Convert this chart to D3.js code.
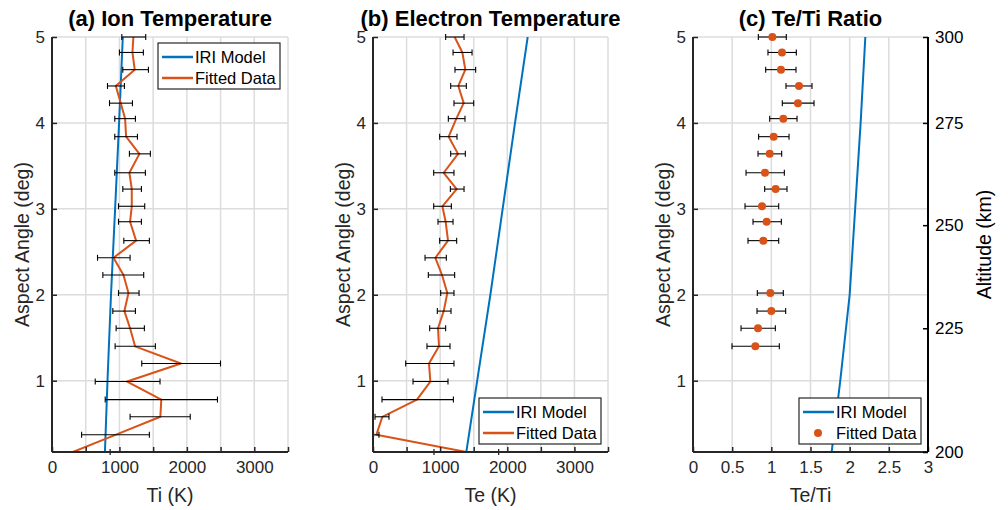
<!DOCTYPE html>
<html>
<head>
<meta charset="utf-8">
<script src="https://cdn.jsdelivr.net/npm/d3@7"></script>
<style>
  body { margin: 0; background: #fff; }
  svg { display: block; font-family: "Liberation Sans", Arial, sans-serif; }
</style>
</head>
<body>
<div id="chart"></div>
<script>
// aspect angle (deg) of each fitted range gate, top to bottom
var angle = [5.0, 4.82, 4.62, 4.43, 4.23, 4.05, 3.84, 3.64, 3.42, 3.23, 3.03, 2.85, 2.63,
             2.43, 2.23, 2.02, 1.81, 1.61, 1.40, 1.20, 0.99, 0.78, 0.58, 0.37, 0.17];

// ion temperature fit (K) with error bar ends
var tiFit = [1207, 1193, 1227, 946, 1020, 1084, 1099, 1296, 1148, 1183, 1183, 1158, 1247,
             912, 1060, 1134, 1074, 1158, 1232, 1912, 1114, 1621, 1607, 941, 310];
var tiLo  = [1035, 1000, 1050, 823, 853, 931, 931, 1148, 931, 1050, 986, 986, 1065,
             675, 754, 986, 902, 951, 936, 1331, 641, 789, 1158, 439, -240];
var tiHi  = [1390, 1355, 1430, 1074, 1193, 1237, 1267, 1459, 1385, 1326, 1375, 1326, 1444,
             1158, 1360, 1291, 1237, 1370, 1533, 2499, 1602, 2454, 2050, 1444, 862];

// electron temperature fit (K)
var teFit = [1216, 1331, 1375, 1271, 1351, 1241, 1127, 1266, 1053, 1246, 1033, 1082, 1117,
             929, 1028, 1107, 1053, 968, 983, 834, 854, 655, 139, 50, 1390];
var teLo  = [1082, 1192, 1221, 1157, 1206, 1122, 993, 1157, 904, 1152, 904, 968, 993,
             775, 824, 1008, 958, 844, 804, 487, 596, 134, 30, 8, 908];
var teHi  = [1356, 1475, 1529, 1390, 1500, 1370, 1251, 1375, 1206, 1356, 1167, 1192, 1246,
             1092, 1216, 1206, 1162, 1082, 1147, 1206, 1117, 1197, 238, 89, 1872];

// Te/Ti ratio (null = not shown)
var ratioFit = [1.013, 1.136, 1.123, 1.353, 1.340, 1.153, 1.030, 0.979, 0.919, 1.055, 0.881, 0.940, 0.898,
                null, null, 0.987, 1.0, 0.830, 0.796, null, null, null, null, null, null];
var ratioLo  = [0.834, 0.957, 0.928, 1.187, 1.140, 0.979, 0.838, 0.830, 0.677, 0.915, 0.664, 0.766, 0.702,
                null, null, 0.821, 0.817, 0.613, 0.498, null, null, null, null, null, null];
var ratioHi  = [1.191, 1.319, 1.315, 1.519, 1.545, 1.328, 1.226, 1.132, 1.166, 1.200, 1.094, 1.128, 1.094,
                null, null, 1.153, 1.183, 1.051, 1.102, null, null, null, null, null, null];

// IRI model profiles
var modelAngle = [0.17, 1, 2, 3, 4, 5];
var tiModel = [785, 823, 875, 936, 995, 1050];
var teModel = [1390, 1552, 1748, 1931, 2115, 2304];
var ratioModel = [1.77, 1.88, 2.0, 2.07, 2.14, 2.2];

// altitude ticks (km) and the aspect angle they sit at
var altTicks = [200, 225, 250, 275, 300];
var altAngle = [0.17, 1.61, 2.81, 4.0, 5.0];

var titles = ["(a) Ion Temperature", "(b) Electron Temperature", "(c) Te/Ti Ratio"];
var xLabels = ["Ti (K)", "Te (K)", "Te/Ti"];

var blue = "#0072BD", orange = "#D95319", axisCol = "#262626", gridCol = "#dcdcdc";

var W = 1008, H = 510, plotTop = 37, plotBottom = 452;
var panelX = [[52, 288], [373, 608], [693, 928]];

var svg = d3.select("#chart").append("svg")
    .attr("width", W)
    .attr("height", H);

var y = d3.scaleLinear().domain([0.17, 5]).range([plotBottom, plotTop]);

function rows(xs, lo, hi) {
    return angle.map(function(a, i) {
        return { a: a, v: xs[i], lo: lo[i], hi: hi[i] };
    }).filter(function(d) { return d.v != null; });
}

var panels = [
    { x: d3.scaleLinear().domain([0, 3500]).range(panelX[0]), ticks: d3.range(0, 3501, 500),
      fmt: function(d) { return d % 1000 === 0 ? d : ""; }, fit: rows(tiFit, tiLo, tiHi), model: tiModel,
      line: true, legend: [158, 43] },
    { x: d3.scaleLinear().domain([0, 3500]).range(panelX[1]), ticks: d3.range(0, 3501, 500),
      fmt: function(d) { return d % 1000 === 0 ? d : ""; }, fit: rows(teFit, teLo, teHi), model: teModel,
      line: true, legend: [479, 398] },
    { x: d3.scaleLinear().domain([0, 3]).range(panelX[2]), ticks: d3.range(0, 3.01, 0.5),
      fmt: function(d) { return String(d); }, fit: rows(ratioFit, ratioLo, ratioHi), model: ratioModel,
      line: false, legend: [799, 398] }
];

panels.forEach(function(p, k) {
    var x = p.x;
    var g = svg.append("g");

    g.append("clipPath").attr("id", "clip" + k)
        .append("rect")
        .attr("x", x.range()[0]).attr("y", plotTop)
        .attr("width", x.range()[1] - x.range()[0])
        .attr("height", plotBottom - plotTop);

    // grid
    g.append("g").selectAll("line.gx").data(p.ticks).enter().append("line")
        .attr("x1", function(d) { return x(d); }).attr("x2", function(d) { return x(d); })
        .attr("y1", plotTop).attr("y2", plotBottom)
        .attr("stroke", gridCol).attr("stroke-width", 1.5);
    g.append("g").selectAll("line.gy").data([1, 2, 3, 4, 5]).enter().append("line")
        .attr("x1", x.range()[0]).attr("x2", x.range()[1])
        .attr("y1", function(d) { return y(d); }).attr("y2", function(d) { return y(d); })
        .attr("stroke", gridCol).attr("stroke-width", 1.5);

    var plot = g.append("g").attr("clip-path", "url(#clip" + k + ")");

    // model line
    plot.append("path")
        .datum(modelAngle.map(function(a, i) { return [p.model[i], a]; }))
        .attr("fill", "none")
        .attr("stroke", blue)
        .attr("stroke-width", 2)
        .attr("d", d3.line()
            .x(function(d) { return x(d[0]); })
            .y(function(d) { return y(d[1]); }));

    // error bars
    var eb = g.append("g").attr("stroke", "#000").attr("stroke-width", 1.1);
    p.fit.forEach(function(d) {
        var yy = y(d.a);
        var x0 = Math.max(x(d.lo), x.range()[0]);
        eb.append("line").attr("x1", x0).attr("x2", x(d.hi)).attr("y1", yy).attr("y2", yy);
        if (x(d.lo) >= x.range()[0])
            eb.append("line").attr("x1", x(d.lo)).attr("x2", x(d.lo)).attr("y1", yy - 3).attr("y2", yy + 3);
        eb.append("line").attr("x1", x(d.hi)).attr("x2", x(d.hi)).attr("y1", yy - 3).attr("y2", yy + 3);
    });

    if (p.line) {
        plot.append("path")
            .datum(p.fit)
            .attr("fill", "none")
            .attr("stroke", orange)
            .attr("stroke-width", 2)
            .attr("stroke-linejoin", "round")
            .attr("d", d3.line()
                .x(function(d) { return x(d.v); })
                .y(function(d) { return y(d.a); }));
    } else {
        g.append("g").selectAll("circle").data(p.fit).enter().append("circle")
            .attr("cx", function(d) { return x(d.v); })
            .attr("cy", function(d) { return y(d.a); })
            .attr("r", 4)
            .attr("fill", orange);
    }

    // axes
    var xAxis = g.append("g")
        .attr("transform", "translate(0," + plotBottom + ")")
        .call(d3.axisBottom(x).tickValues(p.ticks).tickFormat(p.fmt).tickSize(-5).tickPadding(9));
    var yAxis = g.append("g")
        .attr("transform", "translate(" + x.range()[0] + ",0)")
        .call(d3.axisLeft(y).tickValues([1, 2, 3, 4, 5]).tickFormat(function(d) { return d; })
            .tickSize(-5).tickPadding(7));
    [xAxis, yAxis].forEach(function(a) {
        a.select(".domain").attr("stroke", axisCol).attr("stroke-width", 2);
        a.selectAll(".tick line").attr("stroke", axisCol).attr("stroke-width", 1.5);
        a.selectAll("text").attr("fill", axisCol).style("font-size", "17px");
    });
    xAxis.select(".domain").attr("d", "M" + x.range()[0] + ",0H" + x.range()[1]);
    yAxis.select(".domain").attr("d", "M0," + plotBottom + "V" + plotTop);

    // titles and labels
    var cx = (x.range()[0] + x.range()[1]) / 2;
    g.append("text")
        .attr("x", cx).attr("y", 26)
        .attr("text-anchor", "middle")
        .style("font-size", "22px").style("font-weight", "bold")
        .attr("fill", "#000")
        .text(titles[k]);
    g.append("text")
        .attr("x", cx).attr("y", 502)
        .attr("text-anchor", "middle")
        .style("font-size", "19.5px")
        .attr("fill", axisCol)
        .text(xLabels[k]);
    g.append("text")
        .attr("transform", "translate(" + (x.range()[0] - 23) + "," + ((plotTop + plotBottom) / 2) + ") rotate(-90)")
        .attr("text-anchor", "middle")
        .style("font-size", "19.5px")
        .attr("fill", axisCol)
        .text("Aspect Angle (deg)");

    // legend
    var lx = p.legend[0], ly = p.legend[1];
    var lg = g.append("g").attr("transform", "translate(" + lx + "," + ly + ")");
    lg.append("rect").attr("width", 122).attr("height", 46)
        .attr("fill", "#fff").attr("stroke", axisCol).attr("stroke-width", 1.2);
    lg.append("line").attr("x1", 4).attr("x2", 35).attr("y1", 14).attr("y2", 14)
        .attr("stroke", blue).attr("stroke-width", 2.5);
    if (p.line) {
        lg.append("line").attr("x1", 4).attr("x2", 35).attr("y1", 35).attr("y2", 35)
            .attr("stroke", orange).attr("stroke-width", 2.5);
    } else {
        lg.append("circle").attr("cx", 19).attr("cy", 35).attr("r", 4).attr("fill", orange);
    }
    lg.selectAll("text.lt").data(["IRI Model", "Fitted Data"]).enter().append("text")
        .attr("x", 37).attr("y", function(d, i) { return 20 + i * 21; })
        .style("font-size", "16.5px")
        .attr("fill", "#000")
        .text(function(d) { return d; });
});

// right altitude axis on panel (c)
var rx = panelX[2][1];
var altAxis = svg.append("g")
    .attr("transform", "translate(" + rx + ",0)")
    .call(d3.axisRight(y).tickValues(altAngle)
        .tickFormat(function(d, i) { return altTicks[i]; })
        .tickSize(-5).tickPadding(7));
altAxis.select(".domain").attr("d", "M0," + plotBottom + "V" + plotTop).attr("stroke", "#000").attr("stroke-width", 2);
altAxis.selectAll(".tick line").attr("stroke", "#000").attr("stroke-width", 1.5);
altAxis.selectAll("text").attr("fill", "#000").style("font-size", "17px");
svg.append("text")
    .attr("transform", "translate(" + 991 + "," + ((plotTop + plotBottom) / 2) + ") rotate(-90)")
    .attr("text-anchor", "middle")
    .style("font-size", "19.5px")
    .attr("fill", "#000")
    .text("Altitude (km)");
</script>
</body>
</html>
